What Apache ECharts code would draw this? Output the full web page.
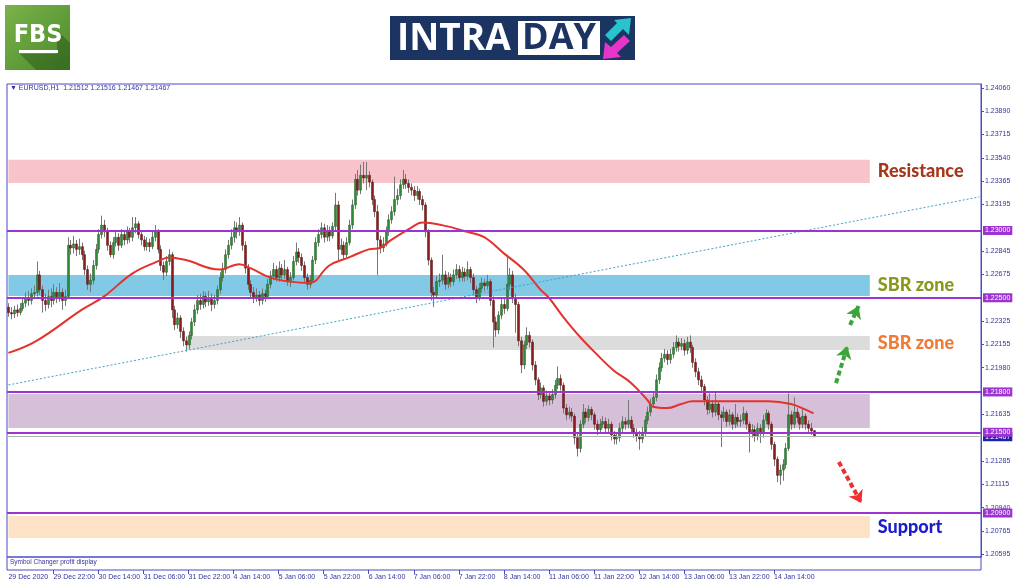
<!DOCTYPE html>
<html><head><meta charset="utf-8">
<script src="https://cdn.jsdelivr.net/npm/echarts@6/dist/echarts.min.js"></script>
<style>html,body{margin:0;padding:0;background:#fff}#c{width:1024px;height:587px}</style>
</head><body><div id="c"></div>
<script>
// ---- data ----
const symbolTitle = '\u25BC EURUSD,H1  1.21512 1.21516 1.21467 1.21467';
const timeLabels = ['29 Dec 2020','29 Dec 22:00','30 Dec 14:00','31 Dec 06:00','31 Dec 22:00','4 Jan 14:00','5 Jan 06:00','5 Jan 22:00','6 Jan 14:00','7 Jan 06:00','7 Jan 22:00','8 Jan 14:00','11 Jan 06:00','11 Jan 22:00','12 Jan 14:00','13 Jan 06:00','13 Jan 22:00','14 Jan 14:00'];
const priceTicks = [1.24060,1.23890,1.23715,1.23540,1.23365,1.23195,1.22845,1.22675,1.22325,1.22155,1.21980,1.21635,1.21285,1.21115,1.20940,1.20765,1.20595];
const levelLines = [1.23000,1.22500,1.21800,1.21500,1.20900];
const lastPrice = 1.21467;
const resistanceZone = [1.23354,1.23525];
const sbrUpperZone = [1.22514,1.22670];
const sbrLowerZone = [1.22112,1.22216];
const rangeZone = [1.21532,1.21785];
const supportZone = [1.20714,1.20878];
const trendLine = [[0,1.21852],[345,1.23250]];
const greenArrows = [[[294,1.21866],[298.3,1.22139]],[[299.2,1.22298],[301.6,1.22439]]];
const redArrow = [[294.7,1.21279],[303.2,1.20974]];
// candles: [open, high, low, close]
const candles = [
[1.2243,1.2246,1.2236,1.2239],[1.2239,1.2243,1.2234,1.2238],[1.2238,1.2244,1.2235,1.2241],[1.2241,1.2245,1.2236,1.2239],
[1.2239,1.2246,1.2237,1.2242],[1.2242,1.2250,1.2240,1.2246],[1.2246,1.2254,1.2243,1.2250],[1.2250,1.2255,1.2244,1.2248],
[1.2248,1.2257,1.2245,1.2253],[1.2253,1.2259,1.2249,1.2254],[1.2254,1.2277,1.2251,1.2267],[1.2267,1.2270,1.2252,1.2256],
[1.2256,1.2259,1.2239,1.2248],[1.2248,1.2253,1.2240,1.2245],[1.2245,1.2256,1.2242,1.2251],[1.2251,1.2257,1.2243,1.2248],
[1.2248,1.2260,1.2245,1.2254],[1.2254,1.2258,1.2246,1.2250],[1.2250,1.2261,1.2247,1.2254],[1.2254,1.2257,1.2241,1.2248],
[1.2248,1.2256,1.2244,1.2251],[1.2251,1.2295,1.2249,1.2289],[1.2289,1.2293,1.2282,1.2287],[1.2287,1.2296,1.2283,1.2290],
[1.2290,1.2293,1.2281,1.2286],[1.2286,1.2294,1.2282,1.2288],[1.2288,1.2291,1.2278,1.2282],[1.2282,1.2285,1.2267,1.2271],
[1.2271,1.2274,1.2256,1.2260],[1.2260,1.2268,1.2254,1.2263],[1.2263,1.2278,1.2260,1.2274],[1.2274,1.2290,1.2271,1.2286],
[1.2286,1.2301,1.2283,1.2297],[1.2297,1.2311,1.2294,1.2304],[1.2304,1.2308,1.2295,1.2299],[1.2299,1.2302,1.2285,1.2289],
[1.2289,1.2292,1.2280,1.2282],[1.2282,1.2295,1.2279,1.2291],[1.2291,1.2300,1.2288,1.2295],[1.2295,1.2298,1.2285,1.2289],
[1.2289,1.2301,1.2287,1.2297],[1.2297,1.2300,1.2289,1.2293],[1.2293,1.2303,1.2290,1.2299],[1.2299,1.2302,1.2291,1.2295],
[1.2295,1.2310,1.2292,1.2302],[1.2302,1.2310,1.2298,1.2305],[1.2305,1.2307,1.2294,1.2297],[1.2297,1.2300,1.2289,1.2293],
[1.2293,1.2296,1.2285,1.2288],[1.2288,1.2295,1.2285,1.2291],[1.2291,1.2294,1.2284,1.2288],[1.2288,1.2299,1.2286,1.2295],
[1.2295,1.2304,1.2292,1.2299],[1.2299,1.2301,1.2283,1.2286],[1.2286,1.2289,1.2270,1.2274],[1.2274,1.2277,1.2263,1.2269],
[1.2269,1.2281,1.2266,1.2277],[1.2277,1.2286,1.2274,1.2282],[1.2282,1.2284,1.2235,1.2241],[1.2241,1.2244,1.2226,1.2230],
[1.2230,1.2239,1.2227,1.2235],[1.2235,1.2237,1.2220,1.2225],[1.2225,1.2228,1.2214,1.2218],[1.2218,1.2221,1.2210,1.2215],
[1.2215,1.2225,1.2212,1.2222],[1.2222,1.2235,1.2219,1.2232],[1.2232,1.2245,1.2229,1.2241],[1.2241,1.2252,1.2238,1.2248],
[1.2248,1.2253,1.2241,1.2245],[1.2245,1.2255,1.2242,1.2251],[1.2251,1.2254,1.2243,1.2247],[1.2247,1.2255,1.2244,1.2250],
[1.2250,1.2253,1.2240,1.2245],[1.2245,1.2252,1.2242,1.2248],[1.2248,1.2259,1.2245,1.2256],[1.2256,1.2269,1.2253,1.2265],
[1.2265,1.2276,1.2262,1.2271],[1.2271,1.2286,1.2268,1.2282],[1.2282,1.2293,1.2279,1.2289],[1.2289,1.2301,1.2286,1.2295],
[1.2295,1.2307,1.2291,1.2302],[1.2302,1.2306,1.2294,1.2299],[1.2299,1.2310,1.2296,1.2304],[1.2304,1.2306,1.2285,1.2289],
[1.2289,1.2292,1.2268,1.2272],[1.2272,1.2275,1.2256,1.2260],[1.2260,1.2263,1.2250,1.2254],[1.2254,1.2258,1.2246,1.2250],
[1.2250,1.2257,1.2247,1.2252],[1.2252,1.2255,1.2244,1.2248],[1.2248,1.2257,1.2245,1.2253],[1.2253,1.2256,1.2247,1.2251],
[1.2251,1.2264,1.2249,1.2260],[1.2260,1.2270,1.2257,1.2266],[1.2266,1.2276,1.2263,1.2271],[1.2271,1.2274,1.2262,1.2265],
[1.2265,1.2277,1.2262,1.2272],[1.2272,1.2275,1.2263,1.2267],[1.2267,1.2278,1.2264,1.2271],[1.2271,1.2273,1.2259,1.2262],
[1.2262,1.2269,1.2258,1.2265],[1.2265,1.2281,1.2263,1.2277],[1.2277,1.2291,1.2274,1.2284],[1.2284,1.2287,1.2276,1.2280],
[1.2280,1.2283,1.2270,1.2274],[1.2274,1.2277,1.2261,1.2265],[1.2265,1.2268,1.2256,1.2260],[1.2260,1.2267,1.2257,1.2263],
[1.2263,1.2281,1.2261,1.2278],[1.2278,1.2295,1.2275,1.2291],[1.2291,1.2301,1.2288,1.2297],[1.2297,1.2306,1.2294,1.2302],
[1.2302,1.2305,1.2291,1.2295],[1.2295,1.2304,1.2292,1.2300],[1.2300,1.2303,1.2292,1.2296],[1.2296,1.2306,1.2294,1.2303],
[1.2303,1.2328,1.2300,1.2319],[1.2319,1.2322,1.2278,1.2286],[1.2286,1.2294,1.2282,1.2289],[1.2289,1.2292,1.2278,1.2282],
[1.2282,1.2295,1.2280,1.2291],[1.2291,1.2308,1.2289,1.2304],[1.2304,1.2323,1.2301,1.2319],[1.2319,1.2342,1.2316,1.2338],
[1.2338,1.2345,1.2326,1.2330],[1.2330,1.2349,1.2327,1.2341],[1.2341,1.2351,1.2335,1.2339],[1.2339,1.2351,1.2330,1.2341],
[1.2341,1.2344,1.2332,1.2336],[1.2336,1.2338,1.2319,1.2323],[1.2323,1.2326,1.2310,1.2314],[1.2314,1.2319,1.2267,1.2293],
[1.2293,1.2296,1.2283,1.2287],[1.2287,1.2295,1.2284,1.2290],[1.2290,1.2303,1.2288,1.2299],[1.2299,1.2312,1.2296,1.2308],
[1.2308,1.2318,1.2305,1.2314],[1.2314,1.2340,1.2311,1.2323],[1.2323,1.2331,1.2319,1.2326],[1.2326,1.2338,1.2323,1.2334],
[1.2334,1.2345,1.2331,1.2338],[1.2338,1.2342,1.2331,1.2335],[1.2335,1.2338,1.2328,1.2332],[1.2332,1.2335,1.2326,1.2330],
[1.2330,1.2333,1.2322,1.2326],[1.2326,1.2333,1.2323,1.2329],[1.2329,1.2331,1.2319,1.2323],[1.2323,1.2326,1.2315,1.2319],
[1.2319,1.2321,1.2295,1.2299],[1.2299,1.2301,1.2274,1.2278],[1.2278,1.2280,1.2248,1.2254],[1.2254,1.2258,1.2243,1.2252],
[1.2252,1.2266,1.2250,1.2262],[1.2262,1.2268,1.2258,1.2263],[1.2263,1.2282,1.2260,1.2267],[1.2267,1.2270,1.2256,1.2260],
[1.2260,1.2269,1.2257,1.2265],[1.2265,1.2268,1.2258,1.2262],[1.2262,1.2271,1.2259,1.2267],[1.2267,1.2275,1.2264,1.2271],
[1.2271,1.2274,1.2262,1.2265],[1.2265,1.2273,1.2262,1.2269],[1.2269,1.2272,1.2262,1.2266],[1.2266,1.2277,1.2263,1.2271],
[1.2271,1.2273,1.2261,1.2265],[1.2265,1.2268,1.2252,1.2256],[1.2256,1.2259,1.2246,1.2250],[1.2250,1.2261,1.2248,1.2257],
[1.2257,1.2265,1.2254,1.2261],[1.2261,1.2264,1.2255,1.2259],[1.2259,1.2267,1.2256,1.2262],[1.2262,1.2264,1.2244,1.2248],
[1.2248,1.2251,1.2213,1.2232],[1.2232,1.2236,1.2221,1.2226],[1.2226,1.2240,1.2223,1.2237],[1.2237,1.2249,1.2234,1.2245],
[1.2245,1.2250,1.2238,1.2242],[1.2242,1.2282,1.2240,1.2260],[1.2260,1.2272,1.2256,1.2267],[1.2267,1.2270,1.2246,1.2250],
[1.2250,1.2253,1.2224,1.2245],[1.2245,1.2247,1.2214,1.2218],[1.2218,1.2221,1.2194,1.2200],[1.2200,1.2218,1.2197,1.2215],
[1.2215,1.2228,1.2212,1.2222],[1.2222,1.2225,1.2213,1.2217],[1.2217,1.2219,1.2196,1.2200],[1.2200,1.2203,1.2185,1.2189],
[1.2189,1.2191,1.2174,1.2178],[1.2178,1.2187,1.2175,1.2183],[1.2183,1.2185,1.2169,1.2173],[1.2173,1.2181,1.2170,1.2177],
[1.2177,1.2180,1.2170,1.2174],[1.2174,1.2182,1.2171,1.2178],[1.2178,1.2189,1.2175,1.2185],[1.2185,1.2199,1.2182,1.2190],
[1.2190,1.2193,1.2181,1.2185],[1.2185,1.2187,1.2164,1.2168],[1.2168,1.2171,1.2159,1.2163],[1.2163,1.2169,1.2160,1.2165],
[1.2165,1.2168,1.2158,1.2162],[1.2162,1.2164,1.2141,1.2146],[1.2146,1.2149,1.2132,1.2138],[1.2138,1.2159,1.2135,1.2156],
[1.2156,1.2171,1.2153,1.2165],[1.2165,1.2168,1.2157,1.2161],[1.2161,1.2170,1.2158,1.2167],[1.2167,1.2169,1.2159,1.2163],
[1.2163,1.2165,1.2152,1.2156],[1.2156,1.2159,1.2148,1.2152],[1.2152,1.2160,1.2149,1.2156],[1.2156,1.2162,1.2153,1.2158],
[1.2158,1.2161,1.2150,1.2153],[1.2153,1.2160,1.2150,1.2156],[1.2156,1.2158,1.2144,1.2148],[1.2148,1.2151,1.2141,1.2145],
[1.2145,1.2150,1.2141,1.2146],[1.2146,1.2157,1.2143,1.2153],[1.2153,1.2162,1.2150,1.2158],[1.2158,1.2161,1.2152,1.2156],
[1.2156,1.2174,1.2153,1.2159],[1.2159,1.2162,1.2149,1.2153],[1.2153,1.2156,1.2146,1.2150],[1.2150,1.2153,1.2143,1.2147],
[1.2147,1.2151,1.2137,1.2145],[1.2145,1.2154,1.2142,1.2150],[1.2150,1.2162,1.2147,1.2159],[1.2159,1.2169,1.2156,1.2165],
[1.2165,1.2175,1.2162,1.2171],[1.2171,1.2180,1.2168,1.2176],[1.2176,1.2193,1.2173,1.2189],[1.2189,1.2202,1.2186,1.2198],
[1.2198,1.2209,1.2195,1.2205],[1.2205,1.2212,1.2202,1.2208],[1.2208,1.2211,1.2200,1.2204],[1.2204,1.2212,1.2201,1.2208],
[1.2208,1.2217,1.2205,1.2213],[1.2213,1.2222,1.2210,1.2217],[1.2217,1.2220,1.2210,1.2214],[1.2214,1.2220,1.2211,1.2216],
[1.2216,1.2219,1.2207,1.2211],[1.2211,1.2221,1.2208,1.2217],[1.2217,1.2222,1.2209,1.2213],[1.2213,1.2215,1.2198,1.2202],
[1.2202,1.2205,1.2191,1.2195],[1.2195,1.2198,1.2185,1.2189],[1.2189,1.2192,1.2180,1.2184],[1.2184,1.2186,1.2170,1.2174],
[1.2174,1.2177,1.2163,1.2167],[1.2167,1.2179,1.2164,1.2171],[1.2171,1.2174,1.2161,1.2165],[1.2165,1.2180,1.2162,1.2171],
[1.2171,1.2173,1.2159,1.2163],[1.2163,1.2166,1.2139,1.2161],[1.2161,1.2169,1.2158,1.2165],[1.2165,1.2167,1.2154,1.2158],
[1.2158,1.2167,1.2155,1.2163],[1.2163,1.2165,1.2152,1.2156],[1.2156,1.2171,1.2153,1.2161],[1.2161,1.2164,1.2154,1.2158],
[1.2158,1.2163,1.2154,1.2159],[1.2159,1.2169,1.2156,1.2164],[1.2164,1.2166,1.2152,1.2156],[1.2156,1.2158,1.2135,1.2150],
[1.2150,1.2156,1.2146,1.2152],[1.2152,1.2155,1.2143,1.2147],[1.2147,1.2157,1.2144,1.2153],[1.2153,1.2156,1.2142,1.2149],
[1.2149,1.2163,1.2146,1.2159],[1.2159,1.2167,1.2156,1.2164],[1.2164,1.2166,1.2152,1.2156],[1.2156,1.2158,1.2137,1.2141],
[1.2141,1.2143,1.2125,1.2130],[1.2130,1.2132,1.2113,1.2118],[1.2118,1.2126,1.2111,1.2122],[1.2122,1.2130,1.2114,1.2126],
[1.2126,1.2142,1.2123,1.2138],[1.2138,1.2179,1.2136,1.2163],[1.2163,1.2166,1.2152,1.2156],[1.2156,1.2176,1.2153,1.2165],
[1.2165,1.2168,1.2157,1.2161],[1.2161,1.2164,1.2152,1.2156],[1.2156,1.2168,1.2153,1.2162],[1.2162,1.2164,1.2152,1.2156],
[1.2156,1.2159,1.2149,1.2153],[1.2153,1.2157,1.2148,1.2151],[1.21512,1.21516,1.21467,1.21467]
];
// moving average read at sampled bars: [bar index, value]
const maPoints = [[0,1.2209],[10,1.2218],[26,1.2241],[34,1.2251],[44,1.2268],[53,1.2277],[57,1.2280],[63,1.2278],[75,1.2271],[82,1.2275],[86,1.2272],[93,1.2265],[100,1.2262],[107,1.2261],[114,1.2274],[121,1.2280],[128,1.2286],[132,1.2287],[136,1.2293],[143,1.2302],[147,1.2306],[154,1.2304],[163,1.2299],[169,1.2295],[176,1.2283],[183,1.2271],[189,1.2256],[192,1.2250],[197,1.2236],[203,1.2221],[209,1.2208],[215,1.2196],[221,1.2187],[227,1.2174],[229,1.2169],[234,1.2168],[239,1.2171],[243,1.2173],[250,1.2173],[260,1.2173],[270,1.2173],[278,1.2171],[283,1.2167],[286,1.2164]];

// ---- chart ----
const SLOTS = 346;
const slots = Array.from({length: SLOTS}, (_, i) => String(i));
const ZONE_END = 306;
const AXIS = '#4b4bc8', TXT = '#34349a', LVL = '#9b34d0';

const chart = echarts.init(document.getElementById('c'));
const zoneLabel = (txt, color) => ({show: true, position: 'right', distance: 8, formatter: txt, color: color,
  fontFamily: 'Lato', fontWeight: 900, fontSize: 18});

chart.setOption({
  animation: false,
  backgroundColor: '#fff',
  grid: [
    {left: 7, right: 43, top: 84, height: 473, show: true, borderColor: AXIS, borderWidth: 1},
    {left: 7, right: 43, top: 557, height: 13, show: true, borderColor: AXIS, borderWidth: 1}
  ],
  xAxis: [
    {gridIndex: 0, type: 'category', data: slots, boundaryGap: true, axisLine: {show: false}, axisTick: {show: false}, axisLabel: {show: false}, splitLine: {show: false}},
    {gridIndex: 1, type: 'category', data: slots, boundaryGap: true, axisLine: {show: false},
      axisTick: {show: true, alignWithLabel: true, length: 4, interval: (i) => i % 16 === 0 && i > 0 && i <= 272, lineStyle: {color: AXIS}},
      axisLabel: {interval: (i) => i % 16 === 0 && i <= 272, formatter: (v, i) => timeLabels[i / 16], align: 'left',
        fontSize: 7, color: TXT, margin: 4, fontFamily: 'Liberation Sans'},
      splitLine: {show: false}}
  ],
  yAxis: [
    {gridIndex: 0, type: 'value', position: 'right', min: 1.20573, max: 1.24089, splitLine: {show: false},
      axisLine: {show: true, lineStyle: {color: AXIS}},
      axisTick: {show: true, length: 3, customValues: priceTicks, lineStyle: {color: AXIS}},
      axisLabel: {customValues: priceTicks, formatter: (v) => v.toFixed(5), fontSize: 7, color: TXT, margin: 4, fontFamily: 'Liberation Sans'}},
    {gridIndex: 1, type: 'value', show: false}
  ],
  series: [
    {
      name: 'zones', type: 'line', xAxisIndex: 0, yAxisIndex: 0, data: maPoints, symbol: 'none', silent: true, z: 1,
      lineStyle: {opacity: 0},
      markArea: {silent: true, data: [
        [{xAxis: 0, yAxis: resistanceZone[0], itemStyle: {color: '#f9c3cc'}, label: zoneLabel('Resistance', '#a4371c')}, {xAxis: ZONE_END, yAxis: resistanceZone[1]}],
        [{xAxis: 0, yAxis: sbrUpperZone[0], itemStyle: {color: '#82c9e6'}, label: zoneLabel('SBR zone', '#8a981c')}, {xAxis: ZONE_END, yAxis: sbrUpperZone[1]}],
        [{xAxis: 63, yAxis: sbrLowerZone[0], itemStyle: {color: '#dcdcdc'}, label: zoneLabel('SBR zone', '#f07a38')}, {xAxis: ZONE_END, yAxis: sbrLowerZone[1]}],
        [{xAxis: 0, yAxis: rangeZone[0], itemStyle: {color: '#d6bfd9'}, label: {show: false}}, {xAxis: ZONE_END, yAxis: rangeZone[1]}],
        [{xAxis: 0, yAxis: supportZone[0], itemStyle: {color: '#fde2c6'}, label: zoneLabel('Support', '#1c1cc8')}, {xAxis: ZONE_END, yAxis: supportZone[1]}]
      ]},
      markLine: {silent: true, precision: 5, symbol: ['none', 'none'], data: [
        [{coord: trendLine[0], lineStyle: {color: '#3fa3c4', width: 1, type: [2, 2]}, label: {show: false}}, {coord: trendLine[1]}],
        {yAxis: lastPrice, lineStyle: {color: '#b4b4b4', width: 1, type: 'solid'},
          label: {show: true, position: 'end', distance: 2, formatter: lastPrice.toFixed(5), color: '#fff', backgroundColor: '#2020a8',
            fontSize: 7, padding: [1, 2], fontFamily: 'Liberation Sans'}},
        ...levelLines.map(v => ({yAxis: v, lineStyle: {color: LVL, width: 2, type: 'solid'},
          label: {show: true, position: 'end', distance: 2, formatter: v.toFixed(5), color: '#fff', backgroundColor: LVL,
            fontSize: 7, padding: [1, 2], fontFamily: 'Liberation Sans'}}))
      ]}
    },
    {
      name: 'EURUSD', type: 'custom', xAxisIndex: 0, yAxisIndex: 0, z: 3,
      data: candles.map((c, i) => [i, c[0], c[1], c[2], c[3]]),
      encode: {x: 0, y: [1, 2, 3, 4]},
      renderItem: (params, api) => {
        const i = api.value(0), o = api.value(1), h = api.value(2), l = api.value(3), c = api.value(4);
        const pO = api.coord([i, o]), pH = api.coord([i, h]), pL = api.coord([i, l]), pC = api.coord([i, c]);
        const x = Math.round(pO[0]);
        const top = Math.min(pO[1], pC[1]), bot = Math.max(pO[1], pC[1]);
        const bull = c >= o;
        return {type: 'group', children: [
          {type: 'line', shape: {x1: x + 0.5, y1: pH[1], x2: x + 0.5, y2: pL[1]}, style: {stroke: '#777777', lineWidth: 1}},
          {type: 'rect', shape: {x: x - 0.5, y: top, width: 2, height: Math.max(1, bot - top)},
            style: {fill: bull ? '#2e8a34' : '#8c1c1c', stroke: bull ? '#1f5f22' : '#5a1010', lineWidth: 0.5}}
        ]};
      }
    },
    {
      name: 'MA', type: 'line', xAxisIndex: 0, yAxisIndex: 0, data: maPoints, symbol: 'none', smooth: 0.4, z: 4, silent: true,
      lineStyle: {color: '#e4322c', width: 2},
      markLine: {silent: true, precision: 5, symbol: ['none', 'arrow'], symbolSize: [12, 12], data: [
        ...greenArrows.map(a => [{coord: a[0], lineStyle: {color: '#3aa63a', width: 4, type: [5, 3]}, label: {show: false}}, {coord: a[1]}]),
        [{coord: redArrow[0], lineStyle: {color: '#ee3030', width: 4, type: [5, 3]}, label: {show: false}}, {coord: redArrow[1]}]
      ]}
    }
  ],
  graphic: [
    // FBS logo
    {type: 'rect', left: 5, top: 5, shape: {width: 65, height: 65}, style: {fill: new echarts.graphic.LinearGradient(0, 0, 1, 1, [{offset: 0, color: '#7bb24a'}, {offset: 1, color: '#4b8a2c'}])}},
    {type: 'polygon', shape: {points: [[20, 54], [57, 54], [57, 30], [70, 43], [70, 70], [36, 70]]}, style: {fill: 'rgba(20,60,10,0.35)'}},
    {type: 'text', x: 38, y: 35, style: {text: 'FBS', fill: '#fff', font: 'bold 25px "DejaVu Sans Condensed"', align: 'center', verticalAlign: 'middle'}},
    {type: 'rect', left: 19, top: 50, shape: {width: 39, height: 3}, style: {fill: '#fff'}},
    // INTRADAY logo
    {type: 'rect', left: 390, top: 16, shape: {width: 245, height: 44}, style: {fill: '#1c3461'}},
    {type: 'text', x: 397, y: 39, style: {text: 'INTRA', fill: '#fff', font: 'bold 37px "Open Sans"', align: 'left', verticalAlign: 'middle'}},
    {type: 'rect', left: 518, top: 21, shape: {width: 82, height: 34}, style: {fill: '#fff'}},
    {type: 'text', x: 559, y: 39, style: {text: 'DAY', fill: '#1c3461', font: 'bold 36px "Open Sans"', align: 'center', verticalAlign: 'middle'}},
    {type: 'polygon', shape: {points: [[631, 18], [629, 35], [623, 29], [611, 41], [605, 35], [617, 23], [614, 20]]}, style: {fill: '#27c4cf'}},
    {type: 'polygon', shape: {points: [[603, 59], [605, 42], [611, 47], [624, 35], [630, 41], [617, 53], [621, 57]]}, style: {fill: '#e536c9'}},
    // chart texts
    {type: 'text', left: 10, top: 85, style: {text: symbolTitle, fill: TXT, font: '7px "Liberation Sans"'}},
    {type: 'text', left: 10, top: 559, style: {text: 'Symbol Changer profit display', fill: TXT, font: '6.5px "Liberation Sans"'}}
  ]
});
</script></body></html>
